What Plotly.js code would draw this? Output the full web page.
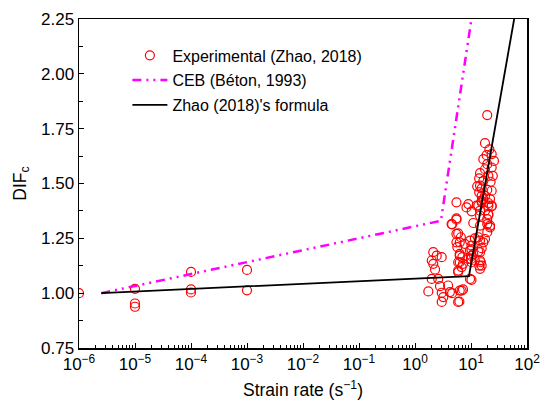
<!DOCTYPE html>
<html><head><meta charset="utf-8">
<script src="https://cdn.plot.ly/plotly-3.0.1.min.js"></script>
<style>html,body{margin:0;padding:0;background:#fff}#chart{width:543px;height:403px}</style>
</head><body><div id="chart"></div>
<script>
// Experimental data (Zhao, 2018)
var expX = [1e-6, 1e-5, 1e-5, 1e-5, 1e-4, 1e-4, 1e-4, 1e-3, 1e-3,
  2.12, 2.44, 3.0, 1.99, 2.12, 2.28, 1.99, 2.6, 2.8, 1.73, 3.0, 3.2, 3.0,
  3.9, 4.2, 4.6, 6.2, 6.3, 6.8, 7.2, 5.9, 9.6, 10.2,
  5.5, 9.0, 10.3, 15.5, 20.4, 23.4, 17.8, 13.5, 14.5, 20.4, 21.9,
  4.5, 5.5, 11.0, 14.5, 19.5, 5.5, 6.6, 6.3, 5.7, 9.6, 11.7, 10.2, 14.5, 17.8,
  15.5, 13.5, 6.3, 7.0, 5.9, 7.2, 6.8, 5.9, 10.2, 11.0, 10.0, 11.7, 14.5, 15.5, 14.0,
  19.5, 17.8, 21.3, 19.0, 23.4, 25.7, 16.6, 19.5, 23.4, 17.8, 14.5, 20.4, 24.5,
  14.0, 16.6, 22.4, 12.9, 15.5, 19.5, 23.4, 14.0, 17.8, 21.9, 15.5, 8.3, 12.6, 20.4,
  5.5, 4.6, 5.9, 9.0, 10.2, 14.5, 16.6, 13.5, 19.5, 21.9, 19.5, 23.4, 20.4, 14.5,
  16.6, 14.5, 15.5, 5.5, 6.3, 6.3, 5.9, 7.7, 9.6, 10.2, 14.5, 15.0];
var expY = [1.00, 1.02, 0.953, 0.938, 1.097, 1.017, 1.003, 1.106, 1.013,
  1.187, 1.171, 1.164, 1.149, 1.134, 1.108, 1.065, 1.065, 1.032, 1.008, 1.002, 0.982, 0.960,
  1.035, 1.005, 1.000, 0.962, 1.012, 1.012, 1.017, 0.960, 1.065, 1.061,
  1.414, 1.406, 1.373, 1.414, 1.411, 1.396, 1.376, 1.399, 1.353, 1.356, 1.300,
  1.315, 1.335, 1.320, 1.308, 1.315, 1.270, 1.255, 1.232, 1.210, 1.240, 1.250, 1.217, 1.240, 1.247,
  1.205, 1.190, 1.179, 1.164, 1.141, 1.134, 1.119, 1.103, 1.199, 1.179, 1.156, 1.149, 1.149, 1.126, 1.126,
  1.812, 1.684, 1.656, 1.629, 1.634, 1.603, 1.611, 1.588, 1.573, 1.565, 1.547, 1.535, 1.535,
  1.523, 1.512, 1.508, 1.487, 1.478, 1.471, 1.467, 1.460, 1.444, 1.429, 1.421, 1.391, 1.399, 1.399,
  1.341, 1.314, 1.273, 1.156, 1.170, 1.187, 1.232, 1.255, 1.278, 1.308, 1.338, 1.399, 1.361, 1.376,
  1.429, 1.490, 1.444, 1.232, 1.171, 1.141, 1.096, 1.225, 1.194, 1.141, 1.111, 1.141];

// CEB (Béton, 1993)
var cebX = [2.5e-6, 2.9, 10.2];
var cebY = [1.00, 1.33, 2.25];

// Zhao (2018)'s formula
var zhaoX = [2.5e-6, 9.2, 59];
var zhaoY = [1.00, 1.078, 2.25];

// Axis ticks
var xTickVals = [1e-6, 1e-5, 1e-4, 1e-3, 1e-2, 1e-1, 1e0, 1e1, 1e2];
var xTickText = ['10<sup>\u22126</sup>', '10<sup>\u22125</sup>', '10<sup>\u22124</sup>', '10<sup>\u22123</sup>',
  '10<sup>\u22122</sup>', '10<sup>\u22121</sup>', '10<sup>0</sup>', '10<sup>1</sup>', '10<sup>2</sup>'];
var yTickVals = [0.75, 1.00, 1.25, 1.50, 1.75, 2.00, 2.25];
var yTickText = ['0.75', '1.00', '1.25', '1.50', '1.75', '2.00', '2.25'];

var minorX = [];
for (var e = -6; e < 2; e++) { for (var m = 2; m <= 9; m++) { minorX.push(m * Math.pow(10, e)); } }

var font = 'Liberation Sans, Arial, sans-serif';

var traces = [
  { x: expX, y: expY, type: 'scatter', mode: 'markers', name: 'Experimental (Zhao, 2018)', legendgroup: 'a',
    marker: { symbol: 'circle-open', size: 9, color: '#ff0000', line: { width: 1.2, color: '#ff0000' } } },
  { x: cebX, y: cebY, type: 'scatter', mode: 'lines', name: 'CEB (B\u00e9ton, 1993)', legendgroup: 'b',
    line: { color: '#ff00ff', width: 2.5, dash: '9px,5px,2px,5px,2px,5px' } },
  { x: zhaoX, y: zhaoY, type: 'scatter', mode: 'lines', name: "Zhao (2018)'s formula", legendgroup: 'c',
    line: { color: '#000000', width: 1.8 } }
];

var layout = {
  width: 543, height: 403,
  margin: { l: 79, r: 16, t: 19, b: 55, pad: 0 },
  paper_bgcolor: '#ffffff', plot_bgcolor: '#ffffff',
  font: { family: font, size: 16, color: '#000' },
  showlegend: true,
  legend: { x: 0.108, y: 0.941, xanchor: 'left', yanchor: 'top', bgcolor: 'rgba(0,0,0,0)',
    borderwidth: 0, font: { family: font, size: 16, color: '#000' }, itemwidth: 35, tracegroupgap: 1 },
  xaxis: {
    type: 'log', range: [-6, 2], tickmode: 'array', tickvals: xTickVals, ticktext: xTickText,
    ticks: 'inside', ticklen: 5, tickwidth: 1, tickcolor: '#000',
    showline: true, linecolor: '#000', linewidth: 1.5, mirror: true,
    showgrid: false, zeroline: false,
    tickfont: { family: font, size: 17, color: '#000' },
    minor: { tickmode: 'array', tickvals: minorX, ticks: 'inside', ticklen: 3, tickwidth: 1, tickcolor: '#000', showgrid: false },
    title: { text: 'Strain rate (s<sup>\u22121</sup>)', font: { family: font, size: 17.5, color: '#000' }, standoff: 11 }
  },
  yaxis: {
    range: [0.75, 2.25], tickmode: 'array', tickvals: yTickVals, ticktext: yTickText,
    ticks: 'inside', ticklen: 5, tickwidth: 1, tickcolor: '#000',
    showline: true, linecolor: '#000', linewidth: 1.5, mirror: true,
    showgrid: false, zeroline: false,
    tickfont: { family: font, size: 17, color: '#000' },
    minor: { dtick: 0.125, tick0: 0.75, ticks: 'inside', ticklen: 4, tickwidth: 1, tickcolor: '#000', showgrid: false },
    title: { text: 'DIF<sub>c</sub>', font: { family: font, size: 17.5, color: '#000' }, standoff: 10 }
  }
};

Plotly.newPlot('chart', traces, layout, { displayModeBar: false, staticPlot: true });
</script>
</body></html>
